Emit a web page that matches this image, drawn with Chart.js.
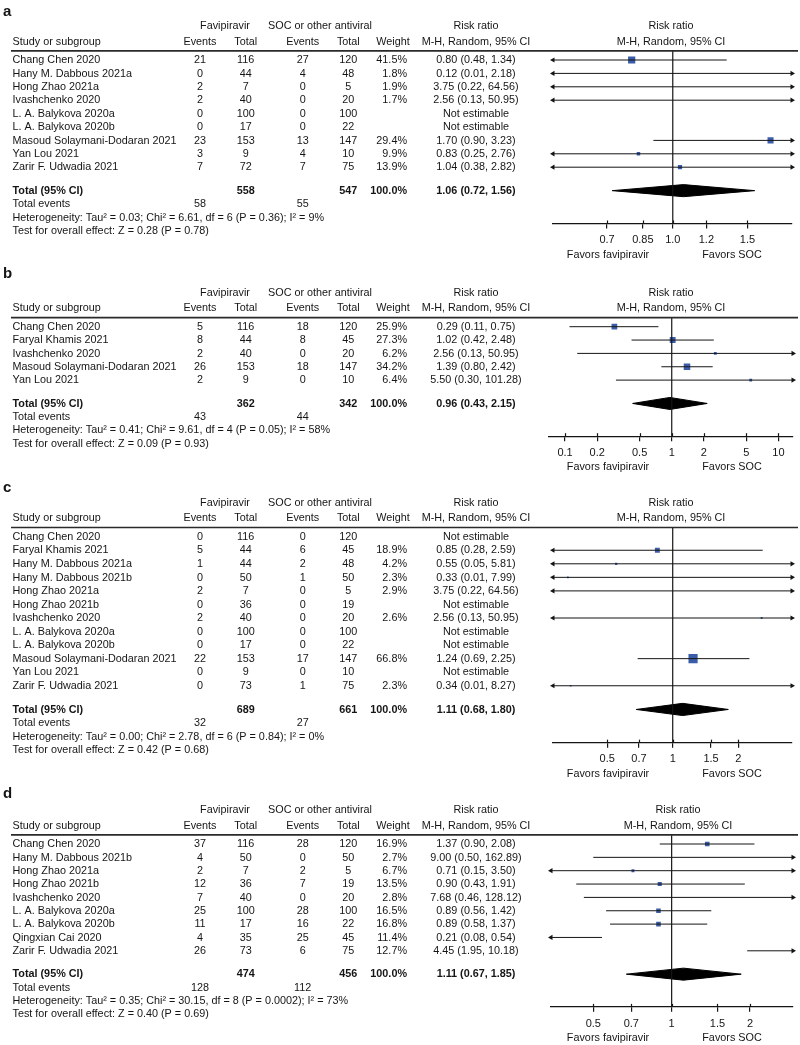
<!DOCTYPE html>
<html>
<head>
<meta charset="utf-8">
<script src="https://cdn.jsdelivr.net/npm/chart.js@4.4.0/dist/chart.umd.min.js"></script>
<style>
  html, body { margin: 0; padding: 0; background: #fff; }
  #wrap { position: relative; width: 800px; height: 1045px; overflow: hidden; }
  #wrap canvas { position: absolute; left: 0; }
</style>
</head>
<body>
<div id="wrap">
  <canvas id="panel-a"></canvas>
  <canvas id="panel-b"></canvas>
  <canvas id="panel-c"></canvas>
  <canvas id="panel-d"></canvas>
</div>
<script>
// ---- panel a ----
var aStudies = ["Chang Chen 2020", "Hany M. Dabbous 2021a", "Hong Zhao 2021a", "Ivashchenko 2020",
  "L. A. Balykova 2020a", "L. A. Balykova 2020b", "Masoud Solaymani-Dodaran 2021", "Yan Lou 2021", "Zarir F. Udwadia 2021"];
var aFavEvents = [21, 0, 2, 2, 0, 0, 23, 3, 7];
var aFavTotal = [116, 44, 7, 40, 100, 17, 153, 9, 72];
var aSocEvents = [27, 4, 0, 0, 0, 0, 13, 4, 7];
var aSocTotal = [120, 48, 5, 20, 100, 22, 147, 10, 75];
var aWeight = [41.5, 1.8, 1.9, 1.7, null, null, 29.4, 9.9, 13.9];
var aRR = [0.80, 0.12, 3.75, 2.56, null, null, 1.70, 0.83, 1.04];
var aLow = [0.48, 0.01, 0.22, 0.13, null, null, 0.90, 0.25, 0.38];
var aHigh = [1.34, 2.18, 64.56, 50.95, null, null, 3.23, 2.76, 2.82];
var aPooled = [1.06, 0.72, 1.56];
var aHet = "Heterogeneity: Tau\u00b2 = 0.03; Chi\u00b2 = 6.61, df = 6 (P = 0.36); I\u00b2 = 9%";
var aTest = "Test for overall effect: Z = 0.28 (P = 0.78)";
var aTicks = [0.7, 0.85, 1, 1.2, 1.5];
var aTickLabels = ["0.7", "0.85", "1.0", "1.2", "1.5"];

// ---- panel b ----
var bStudies = ["Chang Chen 2020", "Faryal Khamis 2021", "Ivashchenko 2020", "Masoud Solaymani-Dodaran 2021", "Yan Lou 2021"];
var bFavEvents = [5, 8, 2, 26, 2];
var bFavTotal = [116, 44, 40, 153, 9];
var bSocEvents = [18, 8, 0, 18, 0];
var bSocTotal = [120, 45, 20, 147, 10];
var bWeight = [25.9, 27.3, 6.2, 34.2, 6.4];
var bRR = [0.29, 1.02, 2.56, 1.39, 5.50];
var bLow = [0.11, 0.42, 0.13, 0.80, 0.30];
var bHigh = [0.75, 2.48, 50.95, 2.42, 101.28];
var bPooled = [0.96, 0.43, 2.15];
var bHet = "Heterogeneity: Tau\u00b2 = 0.41; Chi\u00b2 = 9.61, df = 4 (P = 0.05); I\u00b2 = 58%";
var bTest = "Test for overall effect: Z = 0.09 (P = 0.93)";
var bTicks = [0.1, 0.2, 0.5, 1, 2, 5, 10];
var bTickLabels = ["0.1", "0.2", "0.5", "1", "2", "5", "10"];

// ---- panel c ----
var cStudies = ["Chang Chen 2020", "Faryal Khamis 2021", "Hany M. Dabbous 2021a", "Hany M. Dabbous 2021b",
  "Hong Zhao 2021a", "Hong Zhao 2021b", "Ivashchenko 2020", "L. A. Balykova 2020a", "L. A. Balykova 2020b",
  "Masoud Solaymani-Dodaran 2021", "Yan Lou 2021", "Zarir F. Udwadia 2021"];
var cFavEvents = [0, 5, 1, 0, 2, 0, 2, 0, 0, 22, 0, 0];
var cFavTotal = [116, 44, 44, 50, 7, 36, 40, 100, 17, 153, 9, 73];
var cSocEvents = [0, 6, 2, 1, 0, 0, 0, 0, 0, 17, 0, 1];
var cSocTotal = [120, 45, 48, 50, 5, 19, 20, 100, 22, 147, 10, 75];
var cWeight = [null, 18.9, 4.2, 2.3, 2.9, null, 2.6, null, null, 66.8, null, 2.3];
var cRR = [null, 0.85, 0.55, 0.33, 3.75, null, 2.56, null, null, 1.24, null, 0.34];
var cLow = [null, 0.28, 0.05, 0.01, 0.22, null, 0.13, null, null, 0.69, null, 0.01];
var cHigh = [null, 2.59, 5.81, 7.99, 64.56, null, 50.95, null, null, 2.25, null, 8.27];
var cPooled = [1.11, 0.68, 1.80];
var cHet = "Heterogeneity: Tau\u00b2 = 0.00; Chi\u00b2 = 2.78, df = 6 (P = 0.84); I\u00b2 = 0%";
var cTest = "Test for overall effect: Z = 0.42 (P = 0.68)";
var cTicks = [0.5, 0.7, 1, 1.5, 2];
var cTickLabels = ["0.5", "0.7", "1", "1.5", "2"];

// ---- panel d ----
var dStudies = ["Chang Chen 2020", "Hany M. Dabbous 2021b", "Hong Zhao 2021a", "Hong Zhao 2021b", "Ivashchenko 2020",
  "L. A. Balykova 2020a", "L. A. Balykova 2020b", "Qingxian Cai 2020", "Zarir F. Udwadia 2021"];
var dFavEvents = [37, 4, 2, 12, 7, 25, 11, 4, 26];
var dFavTotal = [116, 50, 7, 36, 40, 100, 17, 35, 73];
var dSocEvents = [28, 0, 2, 7, 0, 28, 16, 25, 6];
var dSocTotal = [120, 50, 5, 19, 20, 100, 22, 45, 75];
var dWeight = [16.9, 2.7, 6.7, 13.5, 2.8, 16.5, 16.8, 11.4, 12.7];
var dRR = [1.37, 9.00, 0.71, 0.90, 7.68, 0.89, 0.89, 0.21, 4.45];
var dLow = [0.90, 0.50, 0.15, 0.43, 0.46, 0.56, 0.58, 0.08, 1.95];
var dHigh = [2.08, 162.89, 3.50, 1.91, 128.12, 1.42, 1.37, 0.54, 10.18];
var dPooled = [1.11, 0.67, 1.85];
var dHet = "Heterogeneity: Tau\u00b2 = 0.35; Chi\u00b2 = 30.15, df = 8 (P = 0.0002); I\u00b2 = 73%";
var dTest = "Test for overall effect: Z = 0.40 (P = 0.69)";
var dTicks = [0.5, 0.7, 1, 1.5, 2];
var dTickLabels = ["0.5", "0.7", "1", "1.5", "2"];

var FONT = "'Liberation Sans', Arial, Helvetica, sans-serif";
var FS = 11.5;       // glyph height of the table text
var SQUEEZE = 0.94;  // the source text is a little narrower than Arial
var INK = "#151515";
var BOX = "#3b5ca8";

// column positions of the table part
var COL_NAME = 12.5, COL_FEV = 200, COL_FN = 245.7, COL_SEV = 302.7, COL_SN = 348.3;
var COL_W = 407, COL_RR = 476;

var panels = [
  { id: "panel-a", letter: "a", top: 0, height: 262, row0: 60, rowH: 13.4, xMin: 0.522, xMax: 1.91, left: 553, right: 792, hdrX: 671,
    studies: aStudies, favEv: aFavEvents, favN: aFavTotal, socEv: aSocEvents, socN: aSocTotal, weight: aWeight,
    rr: aRR, lo: aLow, hi: aHigh, pooled: aPooled, het: aHet, test: aTest, ticks: aTicks, tickLabels: aTickLabels },
  { id: "panel-b", letter: "b", top: 262, height: 214, row0: 64.7, rowH: 13.35, xMin: 0.0707, xMax: 13.7, left: 549, right: 793, hdrX: 671,
    studies: bStudies, favEv: bFavEvents, favN: bFavTotal, socEv: bSocEvents, socN: bSocTotal, weight: bWeight,
    rr: bRR, lo: bLow, hi: bHigh, pooled: bPooled, het: bHet, test: bTest, ticks: bTicks, tickLabels: bTickLabels },
  { id: "panel-c", letter: "c", top: 476, height: 306, row0: 60.7, rowH: 13.55, xMin: 0.282, xMax: 3.53, left: 553, right: 792, hdrX: 671,
    studies: cStudies, favEv: cFavEvents, favN: cFavTotal, socEv: cSocEvents, socN: cSocTotal, weight: cWeight,
    rr: cRR, lo: cLow, hi: cHigh, pooled: cPooled, het: cHet, test: cTest, ticks: cTicks, tickLabels: cTickLabels },
  { id: "panel-d", letter: "d", top: 782, height: 263, row0: 62, rowH: 13.35, xMin: 0.344, xMax: 2.925, left: 551, right: 793, hdrX: 678,
    studies: dStudies, favEv: dFavEvents, favN: dFavTotal, socEv: dSocEvents, socN: dSocTotal, weight: dWeight,
    rr: dRR, lo: dLow, hi: dHigh, pooled: dPooled, het: dHet, test: dTest, ticks: dTicks, tickLabels: dTickLabels }
];

function sum(arr) { return arr.reduce(function (s, v) { return s + v; }, 0); }
function rrText(e, l, h) { return e.toFixed(2) + " (" + l.toFixed(2) + ", " + h.toFixed(2) + ")"; }

function put(ctx, s, x, y, align, bold, size, squeeze) {
  ctx.save();
  ctx.font = (bold ? "bold " : "") + (size || FS) + "px " + FONT;
  ctx.textAlign = align || "left";
  ctx.translate(x, y);
  ctx.scale(squeeze || SQUEEZE, 1);
  ctx.fillText(s, 0, 0);
  ctx.restore();
}

// draws the table columns, header, rule and footer text
function tablePlugin(p, yMin, totRow) {
  return {
    id: "forestTable",
    afterDraw: function (chart) {
      var ctx = chart.ctx;
      var ys = chart.scales.y;
      var xs = chart.scales.x;
      var area = chart.chartArea;
      var ruleY = ys.getPixelForValue(yMin);
      ctx.save();
      ctx.fillStyle = INK;
      ctx.textBaseline = "middle";

      put(ctx, p.letter, 3, 12, "left", true, 15, 1);

      var h1 = ruleY - 25, h2 = ruleY - 9.3;
      put(ctx, "Favipiravir", 225, h1, "center");
      put(ctx, "SOC or other antiviral", 320, h1, "center");
      put(ctx, "Risk ratio", COL_RR, h1, "center");
      put(ctx, "Risk ratio", p.hdrX, h1, "center");
      put(ctx, "Study or subgroup", COL_NAME, h2, "left");
      put(ctx, "Events", COL_FEV, h2, "center");
      put(ctx, "Total", COL_FN, h2, "center");
      put(ctx, "Events", COL_SEV, h2, "center");
      put(ctx, "Total", COL_SN, h2, "center");
      put(ctx, "Weight", 393, h2, "center");
      put(ctx, "M-H, Random, 95% CI", COL_RR, h2, "center");
      put(ctx, "M-H, Random, 95% CI", p.hdrX, h2, "center");

      ctx.strokeStyle = "#2a2a2a";
      ctx.lineWidth = 1.6;
      ctx.beginPath();
      ctx.moveTo(11, ruleY);
      ctx.lineTo(798, ruleY);
      ctx.stroke();

      // short upward part of the axis ticks
      ctx.strokeStyle = INK;
      ctx.lineWidth = 1.2;
      p.ticks.forEach(function (v) {
        var x = Math.round(xs.getPixelForValue(v)) + 0.5;
        ctx.beginPath();
        ctx.moveTo(x, area.bottom - 3);
        ctx.lineTo(x, area.bottom);
        ctx.stroke();
      });

      p.studies.forEach(function (name, i) {
        var y = ys.getPixelForValue(i);
        put(ctx, name, COL_NAME, y, "left");
        put(ctx, String(p.favEv[i]), COL_FEV, y, "center");
        put(ctx, String(p.favN[i]), COL_FN, y, "center");
        put(ctx, String(p.socEv[i]), COL_SEV, y, "center");
        put(ctx, String(p.socN[i]), COL_SN, y, "center");
        if (p.weight[i] !== null) put(ctx, p.weight[i].toFixed(1) + "%", COL_W, y, "right");
        put(ctx, p.rr[i] === null ? "Not estimable" : rrText(p.rr[i], p.lo[i], p.hi[i]), COL_RR, y, "center");
      });

      var ty = ys.getPixelForValue(totRow);
      put(ctx, "Total (95% CI)", COL_NAME, ty, "left", true);
      put(ctx, String(sum(p.favN)), COL_FN, ty, "center", true);
      put(ctx, String(sum(p.socN)), COL_SN, ty, "center", true);
      put(ctx, "100.0%", COL_W, ty, "right", true);
      put(ctx, rrText(p.pooled[0], p.pooled[1], p.pooled[2]), COL_RR, ty, "center", true);

      var ey = ys.getPixelForValue(totRow + 1);
      put(ctx, "Total events", COL_NAME, ey, "left");
      put(ctx, String(sum(p.favEv)), COL_FEV, ey, "center");
      put(ctx, String(sum(p.socEv)), COL_SEV, ey, "center");
      put(ctx, p.het, COL_NAME, ys.getPixelForValue(totRow + 2), "left");
      put(ctx, p.test, COL_NAME, ys.getPixelForValue(totRow + 3), "left");

      put(ctx, "Favors favipiravir", 608, area.bottom + 31, "center");
      put(ctx, "Favors SOC", 732, area.bottom + 31, "center");
      ctx.restore();
    }
  };
}

function buildPanel(p) {
  var n = p.studies.length;
  var yMin = -0.68, yMax = n + 3.2, totRow = n + 0.75;
  var ruleY = p.row0 + yMin * p.rowH;
  var axisY = p.row0 + yMax * p.rowH;
  var axisH = 26;

  var canvas = document.getElementById(p.id);
  canvas.width = 800;
  canvas.height = p.height;
  canvas.style.top = p.top + "px";
  canvas.style.width = "800px";
  canvas.style.height = p.height + "px";

  var ci = [], arrows = [], boxes = [];
  p.rr.forEach(function (est, i) {
    if (est === null) return;
    var lo = Math.max(p.lo[i], p.xMin), hi = Math.min(p.hi[i], p.xMax);
    ci.push({ x: lo, y: i }, { x: hi, y: i }, { x: 1, y: null });
    if (p.lo[i] < p.xMin) arrows.push({ x: p.xMin, y: i, rot: 270 });
    if (p.hi[i] > p.xMax) arrows.push({ x: p.xMax, y: i, rot: 90 });
    if (est > p.xMin && est < p.xMax) boxes.push({ x: est, y: i, w: p.weight[i] });
  });

  var diamond = [
    { x: p.pooled[1], y: totRow },
    { x: p.pooled[0], y: totRow - 0.45 },
    { x: p.pooled[2], y: totRow },
    { x: p.pooled[0], y: totRow + 0.45 },
    { x: p.pooled[1], y: totRow }
  ];

  return new Chart(canvas, {
    type: "scatter",
    data: {
      datasets: [
        { type: "line", data: [{ x: 1, y: yMin }, { x: 1, y: yMax }], borderColor: INK, borderWidth: 1.2, pointRadius: 0 },
        { type: "line", data: ci, borderColor: INK, borderWidth: 1, pointRadius: 0, spanGaps: false },
        { type: "line", data: diamond, fill: "shape", backgroundColor: "#000", borderColor: "#000", borderWidth: 1, pointRadius: 0 },
        { type: "scatter", data: boxes, pointStyle: "rect", pointBackgroundColor: BOX, pointBorderWidth: 0,
          pointRadius: function (ctx) { return ctx.raw ? 1.12 * Math.sqrt(ctx.raw.w) / 1.414 : 0; } },
        { type: "scatter", data: arrows, pointStyle: "triangle", pointRadius: 3, pointBackgroundColor: INK, pointBorderWidth: 0,
          pointRotation: function (ctx) { return ctx.raw ? ctx.raw.rot : 0; }, clip: false }
      ]
    },
    options: {
      responsive: false,
      animation: false,
      devicePixelRatio: 1,
      events: [],
      layout: { padding: { left: p.left, right: 800 - p.right, top: ruleY, bottom: p.height - axisY - axisH } },
      plugins: { legend: { display: false }, tooltip: { enabled: false } },
      scales: {
        x: {
          type: "logarithmic",
          bounds: "data",
          min: p.xMin,
          max: p.xMax,
          afterBuildTicks: function (s) {
            s.ticks = p.ticks.map(function (v) { return { value: v }; });
            s.min = p.xMin;
            s.max = p.xMax;
          },
          afterFit: function (s) { s.height = axisH; },
          ticks: {
            autoSkip: false, maxRotation: 0, padding: 5, color: INK,
            font: { family: FONT, size: 11 },
            callback: function (v, i) { return p.tickLabels[i]; }
          },
          grid: { drawOnChartArea: false, drawTicks: true, tickLength: 5, color: INK, lineWidth: 1.2 },
          border: { display: true, color: INK, width: 1.2 }
        },
        y: { type: "linear", reverse: true, min: yMin, max: yMax, display: false }
      }
    },
    plugins: [tablePlugin(p, yMin, totRow)]
  });
}

panels.forEach(buildPanel);
</script>
</body>
</html>
